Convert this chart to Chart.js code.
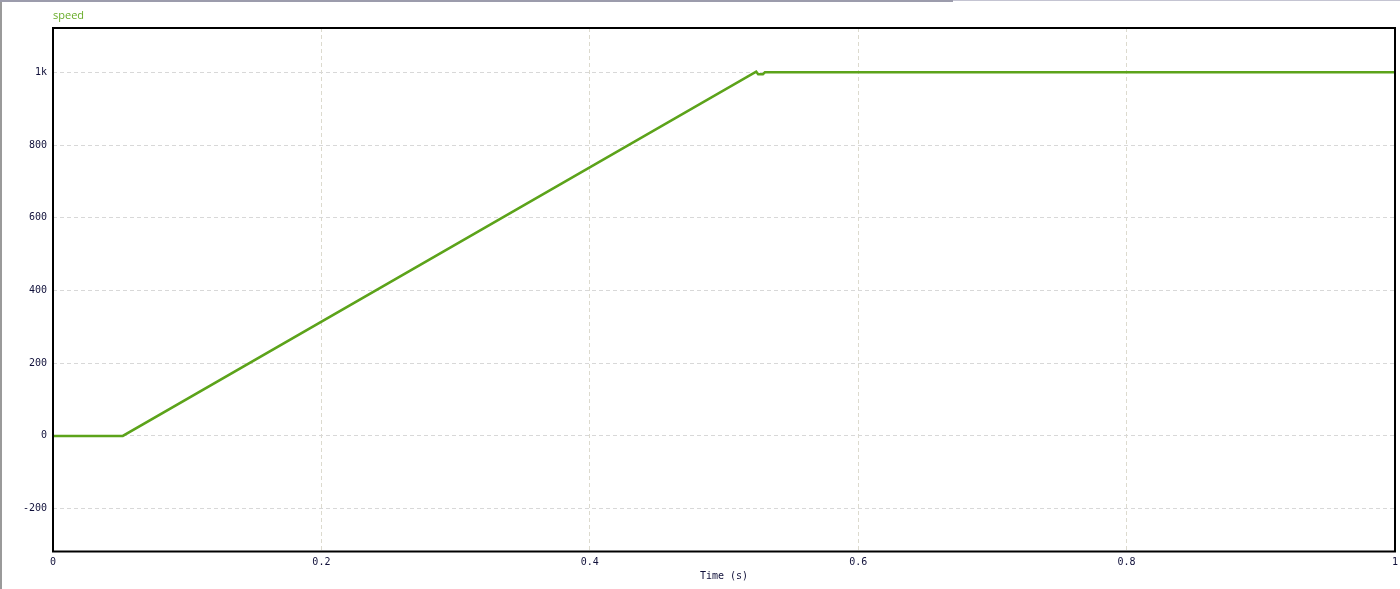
<!DOCTYPE html>
<html>
<head>
<meta charset="utf-8">
<script src="https://cdn.jsdelivr.net/npm/chart.js@4.4.1/dist/chart.umd.min.js"></script>
<style>
    html, body { margin: 0; padding: 0; background: #fff; overflow: hidden; }
    #wrap { position: relative; width: 1400px; height: 589px; }
    #speedChart { display: block; }
    .edge-left { position: absolute; left: 0; top: 0; width: 2px; height: 589px; background: #9a9a9a; }
    .edge-top { position: absolute; left: 0; top: 0; width: 953px; height: 2px; background: #9c9cac; }
    .edge-top2 { position: absolute; left: 953px; top: 0; width: 447px; height: 1px; background: #c4c4d2; }
</style>
</head>
<body>
<div id="wrap">
    <canvas id="speedChart" width="1400" height="589"></canvas>
    <div class="edge-left"></div>
    <div class="edge-top"></div>
    <div class="edge-top2"></div>
</div>
<script>
// simulated motor speed
const times  = [0, 0.052, 0.524, 0.5255, 0.529, 0.5305, 1.0];
const speeds = [0, 0,     1002,  995,    995,   1000,   1000];

const xTicks = [0, 0.2, 0.4, 0.6, 0.8, 1];
const yTicks = [-200, 0, 200, 400, 600, 800, 1000];

const seriesName = 'speed';
const xTitle = 'Time (s)';

const lineColor = '#5ca31a';
const tickColor = '#10103a';
const monoFont = { family: '"DejaVu Sans Mono", "Liberation Mono", monospace', size: 10 };

// plot frame + trace name in the top-left corner
const framePlugin = {
    id: 'frame',
    afterDraw(chart) {
        const { ctx, chartArea } = chart;
        ctx.save();
        ctx.strokeStyle = '#000';
        ctx.lineWidth = 2;
        ctx.strokeRect(chartArea.left, chartArea.top, chartArea.right - chartArea.left, chartArea.bottom - chartArea.top);
        ctx.fillStyle = '#68ac28';
        ctx.font = '11px "Open Sans", "Liberation Sans", sans-serif';
        ctx.textBaseline = 'alphabetic';
        ctx.fillText(seriesName, chartArea.left, 19);
        ctx.restore();
    }
};

function formatY(v) {
    if (Math.abs(v) >= 1000) return (v / 1000) + 'k';
    return String(v);
}

let speedChart;

document.addEventListener('DOMContentLoaded', function() {
    const ctx = document.getElementById('speedChart').getContext('2d');
    speedChart = new Chart(ctx, {
        type: 'line',
        data: {
            datasets: [{
                label: seriesName,
                data: times.map((t, i) => ({ x: t, y: speeds[i] })),
                borderColor: lineColor,
                borderWidth: 2.5,
                pointRadius: 0,
                tension: 0,
                fill: false
            }]
        },
        options: {
            responsive: false,
            animation: false,
            layout: { padding: { top: 28, right: 5, left: 0, bottom: 0 } },
            plugins: {
                legend: { display: false },
                tooltip: { enabled: false }
            },
            scales: {
                x: {
                    type: 'linear',
                    min: 0,
                    max: 1,
                    afterFit(scale) {
                        scale.height = 37.5;
                        scale.paddingRight = 0;
                        scale.paddingLeft = 0;
                    },
                    afterBuildTicks(scale) { scale.ticks = xTicks.map(v => ({ value: v })); },
                    ticks: {
                        color: tickColor,
                        font: monoFont,
                        padding: 5,
                        maxRotation: 0,
                        autoSkip: false,
                        callback: v => String(+v.toFixed(1))
                    },
                    grid: {
                        color: '#dcdace',
                        drawTicks: false,
                        lineWidth: 1
                    },
                    border: { display: false, dash: [4, 3] },
                    title: {
                        display: true,
                        text: xTitle,
                        color: tickColor,
                        font: { family: monoFont.family, size: 10 },
                        padding: { top: 0, bottom: 7 }
                    }
                },
                y: {
                    type: 'linear',
                    min: -318,
                    max: 1122,
                    afterFit(scale) { scale.width = 53; },
                    afterBuildTicks(scale) { scale.ticks = yTicks.map(v => ({ value: v })); },
                    ticks: {
                        color: tickColor,
                        font: monoFont,
                        padding: 6,
                        autoSkip: false,
                        callback: v => formatY(v)
                    },
                    grid: {
                        color: '#d8d8d8',
                        drawTicks: false,
                        lineWidth: 1
                    },
                    border: { display: false, dash: [4, 3] }
                }
            }
        },
        plugins: [framePlugin]
    });
});
</script>
</body>
</html>
